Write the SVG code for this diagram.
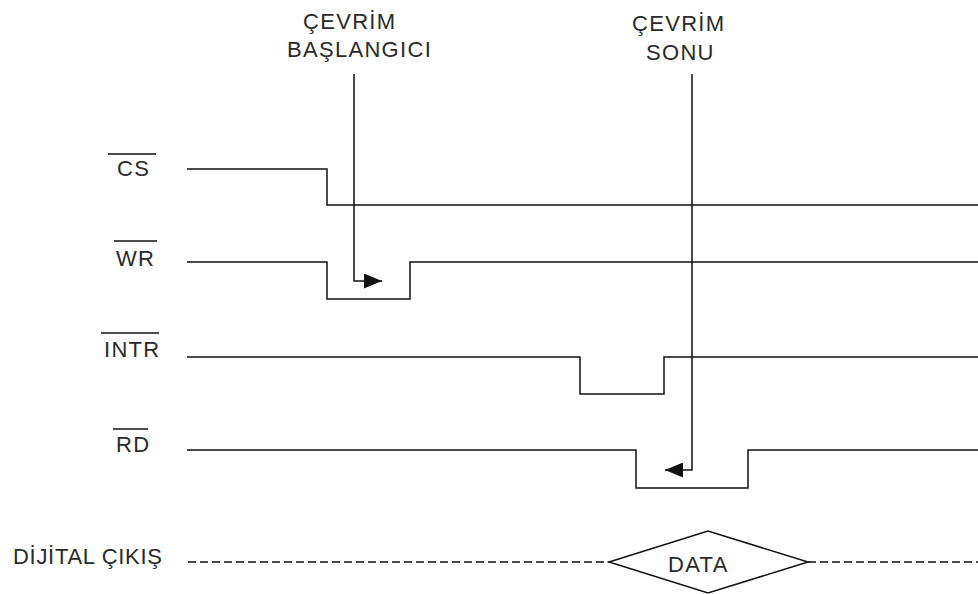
<svg xmlns="http://www.w3.org/2000/svg" width="978" height="594" viewBox="0 0 978 594">
<style>
text{font-family:"Liberation Sans",Arial,sans-serif;font-size:22px;fill:#2a2a2a;letter-spacing:1.3px}
.sig{fill:none;stroke:#111;stroke-width:1.5}
.ov{stroke:#111;stroke-width:1.5}
.dash{fill:none;stroke:#111;stroke-width:1.3;stroke-dasharray:8 4}
</style>
<defs>
<marker id="ah" viewBox="0 0 10 10" refX="10" refY="5" markerWidth="18" markerHeight="15" markerUnits="userSpaceOnUse" orient="auto" preserveAspectRatio="none">
<path d="M0,0 L10,5 L0,10 z" fill="#111"/>
</marker>
</defs>
<rect width="978" height="594" fill="#fff"/>
<g id="label-baslangic">
<text x="303" y="29">ÇEVRİM</text>
<text x="287" y="57">BAŞLANGICI</text>
</g>
<g id="label-sonu">
<text x="632" y="31">ÇEVRİM</text>
<text x="646" y="60">SONU</text>
</g>
<g id="cs">
<text x="117" y="176">CS</text>
<line class="ov" x1="108" y1="154" x2="156" y2="154"/>
<polyline class="sig" points="187,169 327,169 327,205 978,205"/>
</g>
<g id="wr">
<text x="116" y="266">WR</text>
<line class="ov" x1="114" y1="241" x2="157" y2="241"/>
<polyline class="sig" points="187,262 327,262 327,299 410,299 410,262 978,262"/>
</g>
<g id="intr">
<text x="104" y="357">INTR</text>
<line class="ov" x1="101" y1="333" x2="159" y2="333"/>
<polyline class="sig" points="187,357 580,357 580,394 664,394 664,357 978,357"/>
</g>
<g id="rd">
<text x="116" y="452">RD</text>
<line class="ov" x1="113" y1="429" x2="148" y2="429"/>
<polyline class="sig" points="187,450 636,450 636,488 748,488 748,450 978,450"/>
</g>
<g id="dijital">
<text x="13" y="564" style="letter-spacing:0.7px">DİJİTAL ÇIKIŞ</text>
<line class="dash" x1="188" y1="562" x2="609" y2="562"/>
<line class="dash" x1="808" y1="562" x2="978" y2="562"/>
</g>
<g id="data">
<polygon points="609,562 708,531 808,562 708,593" fill="none" stroke="#111" stroke-width="1.5"/>
<text x="668" y="572">DATA</text>
</g>
<g id="connectors">
<polyline class="sig" points="354,74 354,281 382,281" marker-end="url(#ah)"/>
<polyline class="sig" points="692,74 692,470 665,470" marker-end="url(#ah)"/>
</g>
</svg>
